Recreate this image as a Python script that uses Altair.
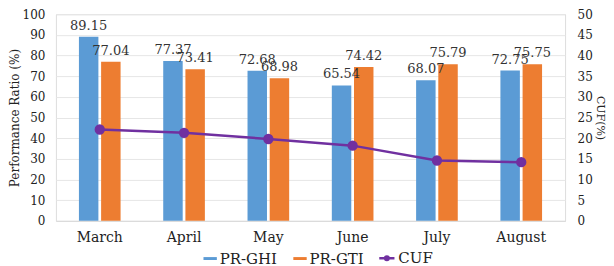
import altair as alt
import pandas as pd

months = ["March", "April", "May", "June", "July", "August"]
pr_ghi = [89.15, 77.37, 72.68, 65.54, 68.07, 72.75]
pr_gti = [77.04, 73.41, 68.98, 74.42, 75.79, 75.75]
cuf = [22.1, 21.3, 19.8, 18.2, 14.6, 14.2]
series_names = ["PR-GHI", "PR-GTI"]
colors = ["#5B9BD5", "#ED7D31"]
line_color = "#7030A0"
FONT = "DejaVu Serif"

rows = []
for m, g, t in zip(months, pr_ghi, pr_gti):
    rows.append({"month": m, "series": "PR-GHI", "value": g})
    rows.append({"month": m, "series": "PR-GTI", "value": t})
bars_df = pd.DataFrame(rows)
line_df = pd.DataFrame({"month": months, "cuf": cuf, "series": ["CUF"] * len(months)})

x_enc = alt.X("month:N", sort=months, title=None,
              scale=alt.Scale(paddingInner=0.5, paddingOuter=0.27),
              axis=alt.Axis(labelAngle=0, labelFontSize=14, labelFont=FONT, labelColor="#222",
                            ticks=False, domainColor="#d9d9d9", labelPadding=10))

y_left = alt.Y("value:Q", title="Performance Ratio (%)",
               scale=alt.Scale(domain=[0, 100]),
               axis=alt.Axis(values=list(range(0, 101, 10)), labelFontSize=12, labelFont=FONT,
                             labelColor="#222", titleFont=FONT, titleFontSize=12,
                             titleFontWeight="normal", titleColor="#222", labelOverlap=False,
                             titlePadding=1,
                             ticks=False, domain=False, gridColor="#e6e6e6", labelPadding=11))

bars = alt.Chart(bars_df).mark_bar(size=19.5).encode(
    x=x_enc,
    xOffset=alt.XOffset("series:N", sort=series_names, scale=alt.Scale(paddingInner=0.1)),
    y=y_left,
    fill=alt.Fill("series:N", sort=series_names,
                  scale=alt.Scale(domain=series_names, range=colors),
                  legend=alt.Legend(title=None, orient="none", direction="horizontal",
                                    legendX=147, legendY=237,
                                    symbolType="M-1.6,-0.35H1.6V0.35H-1.6Z", symbolSize=70,
                                    symbolStrokeWidth=0,
                                    labelFont=FONT, labelFontSize=15, labelColor="#222",
                                    columnPadding=15, labelOffset=2)),
)

texts = alt.Chart(bars_df).mark_text(dy=-7, baseline="alphabetic", fontSize=13, font=FONT,
                                     color="#333").encode(
    x=alt.X("month:N", sort=months),
    xOffset=alt.XOffset("series:N", sort=series_names),
    y=y_left,
    text=alt.Text("value:Q", format=".2f"),
)

left = alt.layer(bars, texts)

line = alt.Chart(line_df).mark_line(color=line_color, strokeWidth=2.5,
                                    point=alt.OverlayMarkDef(color=line_color, size=70, filled=True)).encode(
    x=alt.X("month:N", sort=months),
    y=alt.Y("cuf:Q", title="CUF(%)", scale=alt.Scale(domain=[0, 50]),
            axis=alt.Axis(values=list(range(0, 51, 5)), labelFontSize=12, labelFont=FONT,
                          labelColor="#222", titleFont=FONT, titleFontSize=11, labelOverlap=False,
                          titleFontWeight="normal", titleColor="#222", orient="right",
                          titlePadding=2,
                          ticks=False, domain=False, grid=False, labelPadding=12)),
    stroke=alt.Stroke("series:N", scale=alt.Scale(domain=["CUF"], range=[line_color]),
                      legend=alt.Legend(title=None, orient="none", legendX=324, legendY=237,
                                        symbolType="M-1.7,0H1.7M0.4,0A0.4,0.4,0,1,1,-0.4,0A0.4,0.4,0,1,1,0.4,0Z",
                                        symbolSize=80, symbolStrokeWidth=2.5,
                                        symbolFillColor=line_color,
                                        labelFont=FONT, labelFontSize=15, labelColor="#222",
                                        labelOffset=4)),
)

chart = alt.layer(left, line).resolve_scale(y="independent").properties(
    width=510, height=207, padding={"top": 0, "left": 0, "right": 0, "bottom": 0}
).configure_view(stroke=None).configure(background="white")

chart.save("out.html", embed_options={"renderer": "svg", "actions": False})
